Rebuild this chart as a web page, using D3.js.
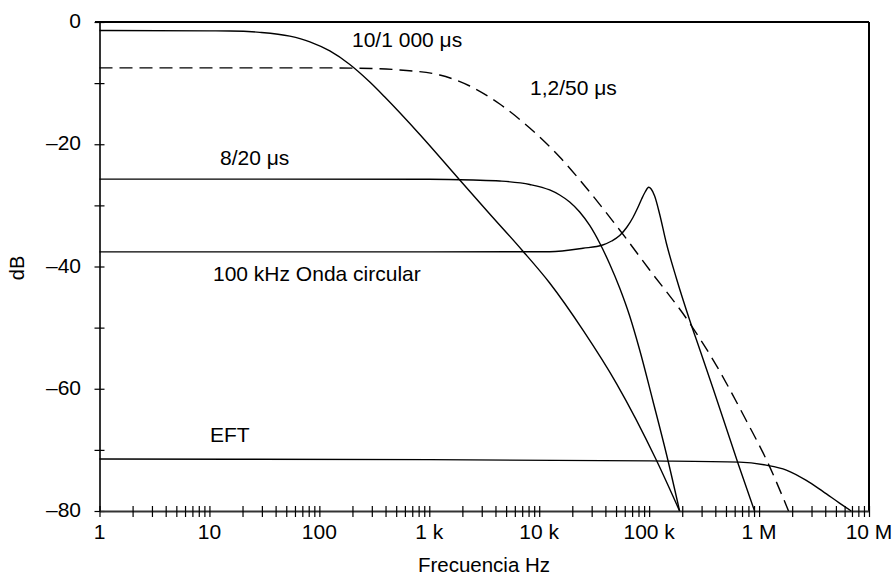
<!DOCTYPE html>
<html>
<head>
<meta charset="utf-8">
<script src="https://cdn.jsdelivr.net/npm/d3@7"></script>
<style>
  html, body { margin: 0; padding: 0; background: #fff; }
  svg text { font-family: "Liberation Sans", Arial, Helvetica, sans-serif; fill: #000; }
</style>
</head>
<body>
<svg id="chart" width="896" height="581"></svg>
<script>
// ---- data (frequency in Hz, level in dB) ----
const xTickValues = [1, 10, 100, 1e3, 1e4, 1e5, 1e6, 1e7];
const xTickLabels = ["1", "10", "100", "1 k", "10 k", "100 k", "1 M", "10 M"];
const yTickValues = [0, -20, -40, -60, -80];
const yTickLabels = ["0", "\u201320", "\u201340", "\u201360", "\u201380"];

const wave10_1000_f  = [1, 10, 15.4, 28.8, 53.9, 82, 124.5, 189.3, 287.7, 394, 820, 1893, 3548, 7080, 12450, 25010, 50350, 116200, 189300];
const wave10_1000_db = [-1.4, -1.45, -1.47, -1.69, -2.32, -3.24, -4.74, -6.95, -9.82, -12.27, -18.4, -25.85, -31.41, -37.46, -42.7, -50.41, -59.11, -71.66, -80];

const wave1_2_50_f  = [1, 100, 300, 539, 1246, 2335, 4375, 8200, 15360, 28800, 53950, 101100, 233500, 377800, 769000, 1194000, 1854000];
const wave1_2_50_db = [-7.5, -7.5, -7.6, -7.85, -8.67, -10.47, -13.42, -17.35, -22.09, -27.81, -34.03, -40.57, -49.26, -55.14, -65.28, -72.0, -80];

const wave8_20_f  = [1, 1000, 2500, 4375, 8200, 12450, 15360, 18930, 23350, 28800, 35480, 43740, 53950, 66530, 82030, 107700, 144300, 189300];
const wave8_20_db = [-25.7, -25.72, -25.85, -26.01, -26.58, -27.48, -28.3, -29.45, -31.08, -33.29, -36.16, -39.59, -43.52, -48.1, -53.66, -61.84, -70.84, -80];

const ring_f  = [1, 1000, 12450, 25010, 37770, 45600, 53950, 62420, 71230, 78560, 85440, 91980, 98980, 104300, 112200, 124500, 143300, 176600, 233500, 287700, 380200, 485600, 641700, 909600];
const ring_db = [-37.6, -37.6, -37.58, -37.02, -36.48, -35.83, -34.93, -33.62, -31.98, -30.43, -28.96, -27.81, -27.04, -27.32, -28.47, -31.41, -36.16, -41.88, -48.75, -53.5, -59.89, -65.6, -72.15, -80];

const eft_f  = [1, 1000, 100000, 665000, 1160000, 1770000, 2690000, 3800000, 5390000, 6890000];
const eft_db = [-71.5, -71.6, -71.8, -72.0, -72.5, -73.3, -75.0, -76.8, -78.7, -80];

const curveLabels = ["10/1 000 \u03bcs", "1,2/50 \u03bcs", "8/20 \u03bcs", "100 kHz Onda circular", "EFT"];

// ---- drawing ----
const svg = d3.select("#chart");
const x = d3.scaleLog().domain([1, 1e7]).range([99.5, 869]);
const y = d3.scaleLinear().domain([0, -80]).range([22, 511]);

const line = d3.line()
  .x(d => x(d[0]))
  .y(d => y(d[1]))
  .curve(d3.curveMonotoneX);

function pts(f, v) { return f.map((ff, i) => [ff, v[i]]); }

const series = [
  { p: pts(wave10_1000_f, wave10_1000_db), dash: null },
  { p: pts(wave1_2_50_f, wave1_2_50_db), dash: "13,7" },
  { p: pts(wave8_20_f, wave8_20_db), dash: null },
  { p: pts(ring_f, ring_db), dash: null },
  { p: pts(eft_f, eft_db), dash: null }
];

// frame: top and right
svg.append("line").attr("x1", 95).attr("x2", x(1e7)).attr("y1", y(0)).attr("y2", y(0))
  .attr("stroke", "#000").attr("stroke-width", 2);
svg.append("line").attr("x1", x(1e7)).attr("x2", x(1e7)).attr("y1", y(0)).attr("y2", y(-80))
  .attr("stroke", "#000").attr("stroke-width", 2);

// y axis
const yAxis = d3.axisLeft(y)
  .tickValues(d3.range(0, -81, -10))
  .tickSizeInner(-5).tickSizeOuter(0)
  .tickFormat("");
const gy = svg.append("g").attr("transform", `translate(${x(1)},0)`).call(yAxis);
gy.select(".domain").attr("stroke", "#333").attr("stroke-width", 2);
gy.selectAll(".tick line").attr("x1", -5).attr("x2", 5).attr("stroke", "#000").attr("stroke-width", 1.2);

// x axis
const minorVals = [];
for (let e = 0; e < 7; e++) for (let m = 1; m <= 9; m++) minorVals.push(m * Math.pow(10, e));
minorVals.push(1e7);
const xAxis = d3.axisBottom(x)
  .tickValues(minorVals)
  .tickSizeInner(5).tickSizeOuter(0)
  .tickFormat("");
const gx = svg.append("g").attr("transform", `translate(0,${y(-80)})`).call(xAxis);
gx.select(".domain").attr("stroke", "#333").attr("stroke-width", 2);
gx.selectAll(".tick line").attr("y1", -5).attr("y2", 6).attr("stroke", "#000").attr("stroke-width", 1.2);

// tick labels
svg.append("g").selectAll("text").data(xTickValues).join("text")
  .attr("x", d => x(d)).attr("y", 539)
  .attr("text-anchor", "middle").attr("font-size", 21)
  .text((d, i) => xTickLabels[i]);
svg.append("g").selectAll("text").data(yTickValues).join("text")
  .attr("x", 81).attr("y", d => y(d) + 6)
  .attr("text-anchor", "end").attr("font-size", 21)
  .text((d, i) => yTickLabels[i]);

// axis titles
svg.append("text").attr("x", 484).attr("y", 572).attr("text-anchor", "middle")
  .attr("font-size", 20.5).text("Frecuencia Hz");
svg.append("text").attr("transform", "translate(24,268) rotate(-90)")
  .attr("text-anchor", "middle").attr("font-size", 20).text("dB");

// curves
svg.append("g").selectAll("path").data(series).join("path")
  .attr("d", d => line(d.p))
  .attr("fill", "none").attr("stroke", "#000").attr("stroke-width", 1.4)
  .attr("stroke-dasharray", d => d.dash);

// curve labels
const labelPos = [[352, 47], [530, 95], [220, 165], [213, 281], [210, 442]];
svg.append("g").selectAll("text").data(curveLabels).join("text")
  .attr("x", (d, i) => labelPos[i][0]).attr("y", (d, i) => labelPos[i][1])
  .attr("font-size", 21)
  .text(d => d);
</script>
</body>
</html>
